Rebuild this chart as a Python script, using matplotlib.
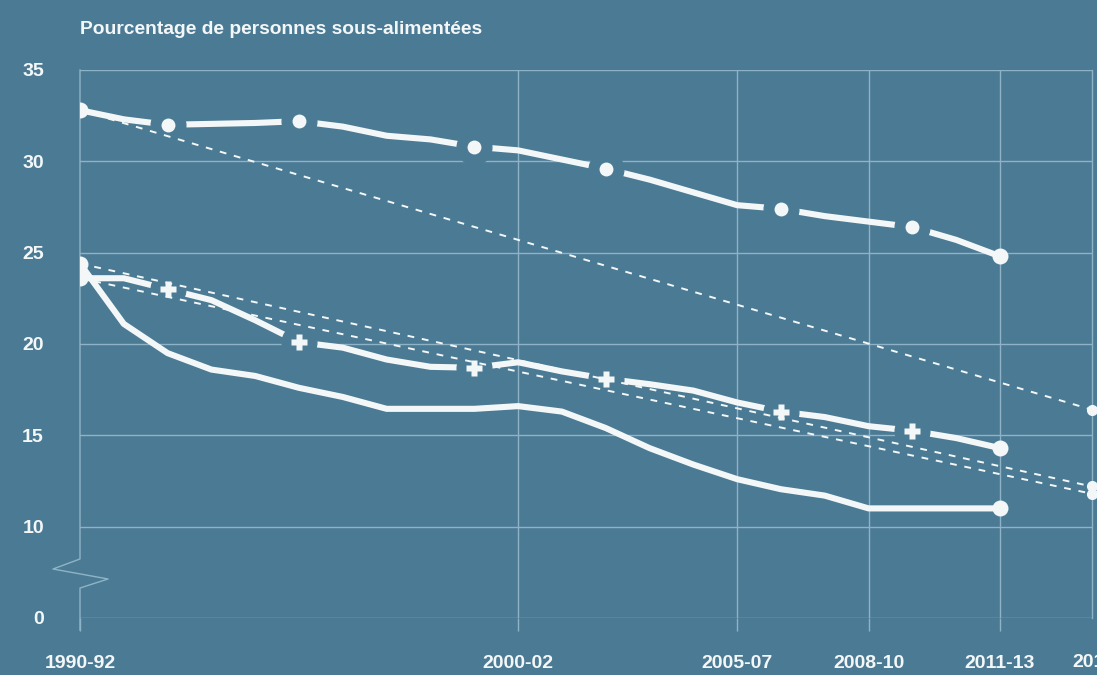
import numpy as np
import matplotlib
matplotlib.use("Agg")
import matplotlib.pyplot as plt

# Periods (mid-year of each three-year average)
years = np.arange(1991, 2013)
tick_years = [1991, 2001, 2006, 2009, 2012]
tick_labels = ["1990-92", "2000-02", "2005-07", "2008-10", "2011-13"]
target_label = "2014-16"
target_year = 2014.1

# Series (%)
top_circles = [32.8, 32.3, 32.0, 32.05, 32.1, 32.2, 31.9, 31.4, 31.2, 30.8, 30.6,
               30.1, 29.6, 29.0, 28.3, 27.6, 27.4, 27.0, 26.7, 26.4, 25.7, 24.8]
mid_plus = [23.6, 23.6, 23.0, 22.4, 21.3, 20.1, 19.8, 19.15, 18.75, 18.7, 19.0,
            18.5, 18.1, 17.8, 17.45, 16.8, 16.3, 16.0, 15.5, 15.25, 14.85, 14.3]
low_solid = [24.4, 21.1, 19.5, 18.6, 18.25, 17.6, 17.1, 16.45, 16.45, 16.45, 16.6,
             16.3, 15.4, 14.3, 13.4, 12.6, 12.05, 11.7, 11.0, 11.0, 11.0, 11.0]

# Target lines: start value -> target value
target_start = [32.8, 24.4, 23.6]
target_end = [16.4, 12.2, 11.8]

y_ticks = [0, 10, 15, 20, 25, 30, 35]
marker_idx = [2, 5, 9, 12, 16, 19]

BG = "#4b7b94"
GRID = "#8fb3c6"
WHITE = "#f4f7f8"
FONT = "Liberation Sans"


def fwd(v):
    """Broken axis: 0-10 squeezed into the height of 5 units."""
    v = np.asarray(v, dtype=float)
    return np.where(v >= 10, v - 5, v / 2)


def inv(p):
    p = np.asarray(p, dtype=float)
    return np.where(p >= 5, p + 5, p * 2)


def draw_series(ax, values, marker=None, msize=10):
    ax.plot(years, values, color=WHITE, lw=4.4, solid_capstyle="butt",
            solid_joinstyle="round", zorder=3)
    if marker is not None:
        # gap in the line around each marker
        ax.plot(years, values, ls="none", marker="o", ms=25, color=BG,
                markevery=marker_idx, zorder=4)
        ax.plot(years, values, ls="none", marker=marker, ms=msize, color=WHITE,
                mec="none", markevery=marker_idx, zorder=6)
    ax.plot(years, values, ls="none", marker="o", ms=11.5, color=WHITE,
            mec="none", markevery=[0, len(values) - 1], zorder=6)


def main():
    fig = plt.figure(figsize=(10.97, 6.75), dpi=100, facecolor=BG)
    ax = fig.add_axes([80 / 1097, 57 / 675, 1012 / 1097, 548 / 675])
    ax.set_facecolor(BG)
    ax.set_yscale("function", functions=(fwd, inv))
    ax.set_xlim(1991, target_year)
    ax.set_ylim(0, 35)

    # grid
    ax.set_yticks(y_ticks)
    ax.set_yticklabels([str(t) for t in y_ticks])
    ax.set_xticks(tick_years)
    ax.set_xticklabels(tick_labels)
    ax.grid(True, color=GRID, lw=1.0, zorder=1)
    ax.set_axisbelow(True)
    ax.get_xgridlines()[0].set_visible(False)
    for side in ["top", "bottom", "left"]:
        ax.spines[side].set_visible(False)
    ax.spines["right"].set_color(GRID)
    ax.spines["right"].set_linewidth(1.0)

    ax.tick_params(axis="y", length=0, pad=26, labelcolor=WHITE)
    ax.tick_params(axis="x", length=9, width=1.0, color=GRID, pad=18,
                   labelcolor=WHITE)
    for lab in ax.get_xticklabels() + ax.get_yticklabels():
        lab.set_fontfamily(FONT)
        lab.set_fontweight("bold")
        lab.set_fontsize(14)

    # left axis with break
    ax.plot([0, 0, -0.0267, 0.0277, 0, 0],
            [1, 0.1077, 0.0894, 0.0712, 0.0547, -0.022],
            transform=ax.transAxes, color=GRID, lw=1.0, clip_on=False, zorder=2)

    # target lines
    for s, e in zip(target_start, target_end):
        ax.plot([years[0], target_year], [s, e], color=WHITE, lw=1.4,
                dashes=(3.5, 4), zorder=5)
        ax.plot([target_year], [e], ls="none", marker="o", ms=7, color=WHITE,
                clip_on=False, zorder=6)

    draw_series(ax, top_circles, "o", 10)
    draw_series(ax, mid_plus, "P", 12)
    draw_series(ax, low_solid)

    # last period label, cut by the right edge as in the source
    ax.text(2014.47, -0.082, target_label, transform=ax.get_xaxis_transform(),
            ha="center", va="center", color=WHITE, fontsize=14,
            fontweight="bold", fontfamily=FONT, clip_on=False)

    fig.text(80 / 1097, 1 - 30 / 675, "Pourcentage de personnes sous-alimentées",
             ha="left", va="center", color=WHITE, fontsize=13.9,
             fontweight="bold", fontfamily=FONT)

    fig.savefig("out.png", dpi=100, facecolor=BG)


if __name__ == "__main__":
    main()
